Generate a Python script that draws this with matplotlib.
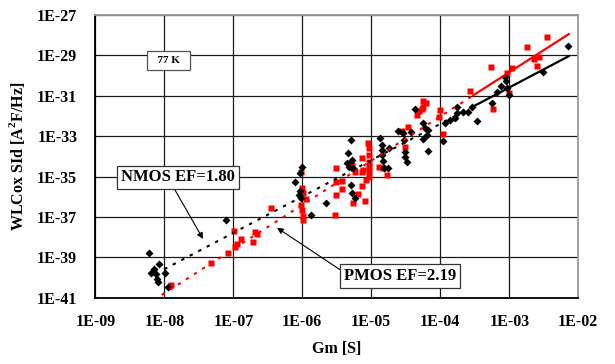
import numpy as np
import matplotlib
matplotlib.use("Agg")
import matplotlib.pyplot as plt

# ---- data ----
nmos_gm = [6.0e-9, 8.4e-9, 7.1e-9, 6.4e-9, 7.6e-9, 7.9e-9, 8.2e-9, 1.02e-8, 1.14e-8, 7.8e-8,
           7.8e-7, 9.9e-7, 9.2e-7, 9.3e-7, 8.95e-7, 9.7e-7, 1.34e-6, 2.24e-6,
           5.1e-6, 4.6e-6, 5.2e-6, 4.4e-6, 4.8e-6, 5.5e-6, 5.0e-6, 5.2e-6, 5.8e-6,
           1.34e-5, 1.42e-5, 1.42e-5, 1.44e-5, 1.46e-5, 1.53e-5, 1.76e-5, 1.82e-5, 2.46e-5,
           2.9e-5, 2.98e-5, 3.1e-5, 3.1e-5, 3.26e-5, 3.7e-5, 4.3e-5, 5.7e-5, 6.0e-5, 6.7e-5, 6.35e-5, 5.7e-5, 6.7e-5,
           1.08e-4, 1.17e-4, 1.38e-4, 1.63e-4, 1.73e-4, 1.76e-4, 2.15e-4, 2.55e-4, 2.85e-4, 3.35e-4,
           5.6e-4, 6.6e-4, 7.5e-4, 8.7e-4, 8.95e-4, 9.2e-4, 1.0e-3, 3.08e-3, 7.2e-3]
nmos_sid = [1.65e-39, 4.9e-40, 2.6e-40, 1.7e-40, 1.45e-40, 8.9e-41, 6.0e-41, 1.74e-40, 3.4e-41, 6.8e-38,
            5.6e-36, 2.9e-35, 1.45e-35, 1.95e-36, 1.23e-36, 8.7e-37, 1.26e-37, 4.9e-37,
            6.5e-34, 1.4e-34, 6.6e-35, 4.55e-35, 3.1e-35, 2.6e-35, 3.8e-36, 1.5e-36, 8.7e-37,
            8.1e-34, 3.6e-34, 2.07e-34, 1.18e-34, 5.9e-35, 2.75e-35, 2.6e-35, 2.5e-34, 1.82e-33,
            1.38e-33, 6.5e-34, 1.7e-34, 9.7e-35, 5.5e-35, 1.66e-33, 2.14e-32, 4.4e-33, 2.46e-33, 2.04e-33, 1.15e-33, 7.1e-34, 1.74e-34,
            5.7e-34, 4.4e-33, 6.3e-33, 7.7e-33, 1.35e-32, 2.9e-32, 1.62e-32, 1.62e-32, 2.9e-32, 5.9e-33,
            4.4e-32, 1.58e-31, 3.1e-31, 8.3e-31, 5.6e-31, 2.35e-31, 1.1e-31, 1.5e-30, 3.0e-29]

pmos_gm = [1.25e-8, 4.7e-8, 8.5e-8, 1.03e-7, 1.06e-7, 1.12e-7, 1.28e-7, 1.95e-7, 2.06e-7, 2.17e-7, 3.5e-7,
           9.6e-7, 1.0e-6, 1.04e-6, 1.13e-6, 9.7e-7, 1.0e-6, 1.04e-6, 1.04e-6,
           3.13e-6, 3.1e-6, 3.08e-6, 3.8e-6, 3.8e-6, 3.0e-6, 5.2e-6, 5.8e-6, 7.3e-6, 7.4e-6, 7.7e-6, 8.4e-6, 7.3e-6, 6.5e-6, 5.4e-6, 8.1e-6,
           9.1e-6, 9.4e-6, 9.3e-6, 9.4e-6, 9.3e-6, 9.4e-6, 9.4e-6, 1.3e-5, 1.67e-5, 1.49e-5,
           2.76e-5, 3.43e-5, 3.1e-5, 4.55e-5, 4.99e-5, 5.4e-5, 5.7e-5, 5.7e-5, 6.2e-5, 9.9e-5, 9.7e-5, 1.1e-4,
           2.74e-4, 5.4e-4, 5.9e-4, 9.2e-4, 1.08e-3, 1.0e-3, 1.82e-3, 2.28e-3, 2.72e-3, 2.55e-3, 3.5e-3]
pmos_sid = [4.2e-41, 5.5e-40, 1.55e-39, 2.04e-38, 3.2e-39, 4.7e-39, 7.9e-39, 5.7e-39, 1.7e-38, 1.35e-38, 2.75e-37,
            1.74e-35, 2.6e-36, 1.55e-36, 7.6e-37, 3.9e-37, 2.24e-37, 1.12e-37, 7.1e-38,
            2.8e-35, 5.4e-36, 1.23e-36, 5.7e-36, 2.45e-36, 1.26e-37, 3.7e-35, 1.74e-35, 1.74e-35, 8.1e-35, 2.1e-35, 6.8e-36, 3.4e-36, 1.3e-36, 4.8e-37, 5.8e-37,
            4.5e-34, 2.5e-34, 1.18e-34, 5.5e-35, 3.1e-35, 1.74e-35, 1.0e-35, 3.1e-35, 1.2e-35, 2.6e-35,
            1.7e-33, 2.8e-33, 3.0e-34, 1.12e-32, 1.8e-32, 2.14e-32, 2.9e-32, 5.8e-32, 4.6e-32, 2.0e-32, 9.3e-33, 1.35e-33,
            1.78e-31, 2.75e-30, 2.14e-32, 1.35e-30, 2.45e-30, 1.38e-31, 2.7e-29, 6.6e-30, 8.3e-30, 3.0e-30, 8.5e-29]

# power-law fits  Sid = 10**logk * gm**EF
nmos_ef, nmos_logk = 1.80, -25.19
pmos_ef, pmos_logk = 2.19, -23.264
nmos_range = (1.0e-8, 7.3e-3)
pmos_range = (7.0e-9, 7.3e-3)
split_gm = 3.0e-4   # dashed below, solid above

x_ticks = [1e-9, 1e-8, 1e-7, 1e-6, 1e-5, 1e-4, 1e-3, 1e-2]
x_labels = ["1E-09", "1E-08", "1E-07", "1E-06", "1E-05", "1E-04", "1E-03", "1E-02"]
y_ticks = [1e-41, 1e-39, 1e-37, 1e-35, 1e-33, 1e-31, 1e-29, 1e-27]
y_labels = ["1E-41", "1E-39", "1E-37", "1E-35", "1E-33", "1E-31", "1E-29", "1E-27"]

# ---- figure ----
plt.rcParams['font.family'] = ['Liberation Serif', 'DejaVu Serif']
plt.rcParams['font.weight'] = 'bold'
plt.rcParams['mathtext.fontset'] = 'custom'
plt.rcParams['mathtext.rm'] = 'Liberation Serif:bold'
plt.rcParams['mathtext.bf'] = 'Liberation Serif:bold'

fig = plt.figure(figsize=(6.15, 3.64), dpi=100)
ax = fig.add_axes([0.155, 0.1822, 0.7853, 0.7766])
ax.set_xscale('log')
ax.set_yscale('log')
ax.set_xlim(1e-9, 1e-2)
ax.set_ylim(1e-41, 1e-27)

ax.set_xticks(x_ticks)
ax.set_xticklabels(x_labels)
ax.set_yticks(y_ticks)
ax.set_yticklabels(y_labels)
ax.minorticks_off()
ax.tick_params(axis='both', length=0, labelsize=11.5)
ax.tick_params(axis='x', pad=12)
ax.tick_params(axis='y', pad=13)
for lab in ax.get_xticklabels() + ax.get_yticklabels():
    lab.set_fontweight('bold')

ax.grid(True, which='major', color='#1a1a1a', lw=0.9)
ax.set_axisbelow(True)
for side in ['top', 'right']:
    ax.spines[side].set_color('#9a9a9a')
    ax.spines[side].set_linewidth(1.3)
for side in ['left', 'bottom']:
    ax.spines[side].set_color('black')
    ax.spines[side].set_linewidth(1.3)

# points
ax.plot(pmos_gm, pmos_sid, 's', ms=4.6, color='#ff0000', mec='none', zorder=3)
ax.plot(nmos_gm, nmos_sid, 'D', ms=3.7, color='black', mec='none', zorder=3)

# fit lines
def draw_fit(ef, logk, rng, color):
    xd = np.geomspace(rng[0], split_gm, 200)
    xs = np.geomspace(split_gm, rng[1], 50)
    ax.plot(xd, 10**logk * xd**ef, color=color, lw=1.5, dashes=(1.6, 3.0), zorder=4)
    ax.plot(xs, 10**logk * xs**ef, color=color, lw=1.6, zorder=4)

draw_fit(nmos_ef, nmos_logk, nmos_range, 'black')
draw_fit(pmos_ef, pmos_logk, pmos_range, '#ff0000')

# labels
ax.set_xlabel("Gm [S]", fontsize=11.5, fontweight='bold', labelpad=8)
ax.set_ylabel(r"WLCox SId [A$^{\rm 2}$F/Hz]", fontsize=11.5, fontweight='bold', labelpad=7)

box = dict(boxstyle='square,pad=0.22', fc='white', ec='#333333', lw=0.9)
ax.text(1.15e-8, 5.3e-30, "  77 K  ", fontsize=8, fontweight='bold', ha='center', va='center',
        bbox=dict(boxstyle='square,pad=0.45', fc='white', ec='#555555', lw=0.9), zorder=5)

ax.annotate("NMOS EF=1.80", xy=(3.64e-8, 8.1e-39), xytext=(1.58e-8, 9.1e-36),
            fontsize=12, fontweight='bold', ha='center', va='center', bbox=box,
            arrowprops=dict(arrowstyle='-|>', color='black', lw=0.8, mutation_scale=9,
                            relpos=(0.45, 0.0), shrinkA=0, shrinkB=0), zorder=5)
ax.annotate("PMOS EF=2.19", xy=(4.3e-7, 2.9e-38), xytext=(2.6e-5, 1.2e-40),
            fontsize=12, fontweight='bold', ha='center', va='center', bbox=box,
            arrowprops=dict(arrowstyle='-|>', color='black', lw=0.8, mutation_scale=9,
                            relpos=(0.0, 0.73), shrinkA=0, shrinkB=0), zorder=5)

fig.savefig("out.png", dpi=100)
